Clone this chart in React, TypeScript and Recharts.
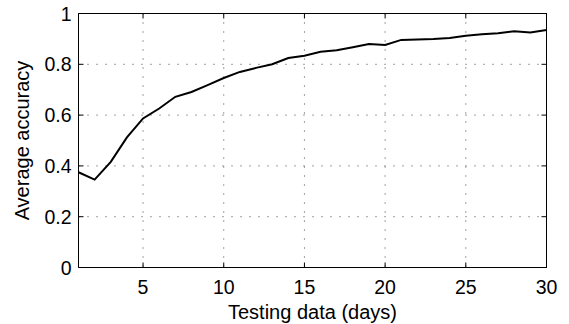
import React from 'react';
import { LineChart, Line, XAxis, YAxis, CartesianGrid, ReferenceLine } from 'recharts';

const days = [1, 2, 3, 4, 5, 6, 7, 8, 9, 10, 11, 12, 13, 14, 15, 16, 17, 18, 19, 20, 21, 22, 23, 24, 25, 26, 27, 28, 29, 30];
const accuracy = [0.375, 0.346, 0.416, 0.512, 0.587, 0.626, 0.672, 0.691, 0.718, 0.746, 0.770, 0.786, 0.800, 0.825, 0.834, 0.849, 0.855, 0.867, 0.880, 0.876, 0.896, 0.898, 0.900, 0.904, 0.912, 0.918, 0.922, 0.930, 0.925, 0.935];
const xTicks = [5, 10, 15, 20, 25, 30];
const yTicks = [0, 0.2, 0.4, 0.6, 0.8, 1];
const xDomain = [1, 30];
const yDomain = [0, 1];
const xLabel = 'Testing data (days)';
const yLabel = 'Average accuracy';

const data = days.map((d, i) => ({ day: d, acc: accuracy[i] }));

const W = 569;
const H = 324;
const Y_AXIS_W = 78.5;
const X_AXIS_H = 56.5;
const MARGIN = { top: 13.5, right: 22.5, left: 0, bottom: 0 };
const PLOT_TOP = MARGIN.top;
const PLOT_RIGHT = W - MARGIN.right;
const PLOT_LEFT = MARGIN.left + Y_AXIS_W;
const PLOT_BOTTOM = H - MARGIN.bottom - X_AXIS_H;

const FONT = '"Liberation Sans", Arial, Helvetica, sans-serif';
const FS = 19.5;
const TICK = 5;

const BottomTick = (props: any) => {
  const { x, y, payload } = props;
  return (
    <g>
      <line x1={x} x2={x} y1={y} y2={y - TICK} style={{ stroke: '#000', strokeWidth: 1 }} />
      <line x1={x} x2={x} y1={PLOT_TOP} y2={PLOT_TOP + TICK} style={{ stroke: '#000', strokeWidth: 1 }} />
      <text x={x} y={y + 26} textAnchor="middle" fontSize={FS} fontFamily={FONT} fill="#000">{String(payload.value)}</text>
    </g>
  );
};
const LeftTick = (props: any) => {
  const { x, y, payload } = props;
  return (
    <g>
      <line x1={x} x2={x + TICK} y1={y} y2={y} style={{ stroke: '#000', strokeWidth: 1 }} />
      <line x1={PLOT_RIGHT} x2={PLOT_RIGHT - TICK} y1={y} y2={y} style={{ stroke: '#000', strokeWidth: 1 }} />
      <text x={x - 7} y={y} dy="0.36em" textAnchor="end" fontSize={FS} fontFamily={FONT} fill="#000">{String(payload.value)}</text>
    </g>
  );
};

export default function App() {
  return (
    <div style={{ position: 'absolute', left: 0, top: 0, width: W, height: H, background: '#fff' }}>
      <LineChart width={W} height={H} data={data} margin={MARGIN}>
        <CartesianGrid stroke="#444" strokeDasharray="1 8" strokeWidth={1} horizontalValues={yTicks} verticalValues={xTicks} />
        <XAxis
          dataKey="day"
          type="number"
          domain={xDomain}
          ticks={xTicks}
          height={X_AXIS_H}
          tickSize={0}
          tickMargin={0}
          stroke="#000"
          tick={<BottomTick />}
          interval={0}
          label={{ value: xLabel, position: 'insideBottom', offset: 5, fontSize: 20, fontFamily: FONT, fill: '#000' }}
        />
        <YAxis
          type="number"
          domain={yDomain}
          ticks={yTicks}
          width={Y_AXIS_W}
          tickSize={0}
          tickMargin={0}
          stroke="#000"
          tick={<LeftTick />}
          interval={0}
          label={{ value: yLabel, angle: -90, position: 'insideLeft', offset: 22, fontSize: 20, fontFamily: FONT, fill: '#000', style: { textAnchor: 'middle' } }}
        />
        <ReferenceLine y={yDomain[1]} stroke="#000" strokeWidth={1} ifOverflow="visible" />
        <ReferenceLine x={xDomain[1]} stroke="#000" strokeWidth={1} ifOverflow="visible" />
        <Line dataKey="acc" type="linear" stroke="#000" strokeWidth={2} dot={false} isAnimationActive={false} />
      </LineChart>
      <div
        style={{
          position: 'absolute',
          left: PLOT_LEFT,
          top: PLOT_TOP - 0.5,
          width: PLOT_RIGHT + 0.5 - PLOT_LEFT,
          height: PLOT_BOTTOM - PLOT_TOP + 0.5,
          boxSizing: 'border-box',
          borderTop: '1px solid #000',
          borderRight: '1px solid #000',
          pointerEvents: 'none',
        }}
      />
    </div>
  );
}
